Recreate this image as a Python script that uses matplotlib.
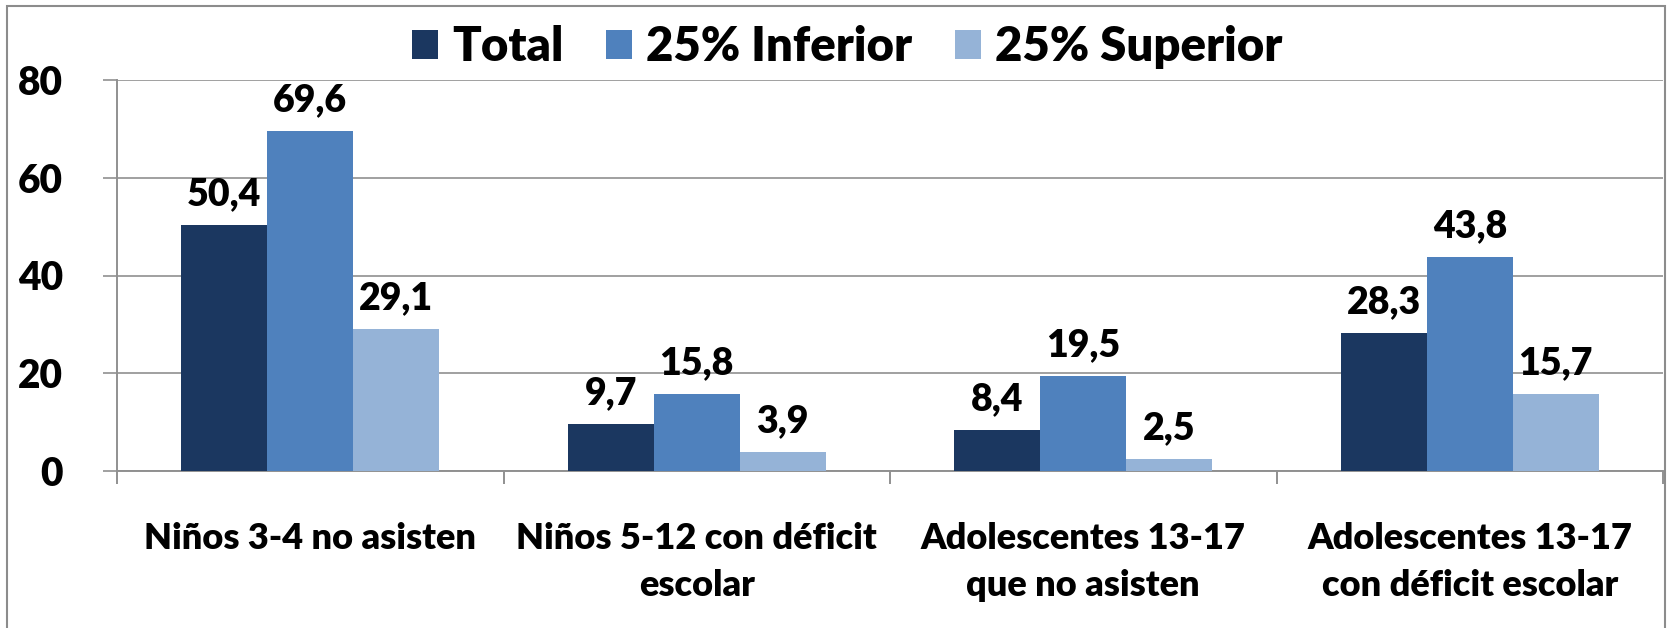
import matplotlib
matplotlib.use("Agg")
import matplotlib.pyplot as plt
from matplotlib.patches import Rectangle, Patch
import numpy as np

plt.rcParams['font.family'] = ['Lato', 'DejaVu Sans']
plt.rcParams['font.weight'] = 'heavy'

categories = ["Niños 3-4 no asisten",
              "Niños 5-12 con déficit\nescolar",
              "Adolescentes 13-17\nque no asisten",
              "Adolescentes 13-17\ncon déficit escolar"]
series_names = ["Total", "25% Inferior", "25% Superior"]
total = [50.4, 9.7, 8.4, 28.3]
inferior = [69.6, 15.8, 19.5, 43.8]
superior = [29.1, 3.9, 2.5, 15.7]
colors = ['#1B3760', '#4F81BD', '#95B3D7']
yticks = [0, 20, 40, 60, 80]

fig = plt.figure(figsize=(16.67, 6.28), dpi=100)
ax = fig.add_axes([117 / 1667, 1 - 471 / 628, 1546 / 1667, 391 / 628])

x = np.arange(len(categories))
w = 1 / 4.5
for i, vals in enumerate([total, inferior, superior]):
    bars = ax.bar(x + (i - 1) * w, vals, width=w, color=colors[i], zorder=3)
    for b, v in zip(bars, vals):
        ax.annotate(f"{v:.1f}".replace('.', ','),
                    (b.get_x() + b.get_width() / 2, b.get_height()),
                    xytext=(0, 10), textcoords='offset points',
                    ha='center', va='bottom', fontsize=27, fontweight='heavy')

ax.set_xlim(-0.5, len(categories) - 0.5)
ax.set_ylim(0, 80)
ax.set_yticks(yticks)
ax.set_yticklabels([str(t) for t in yticks])
ax.yaxis.grid(True, color='#a0a0a0', lw=1.4, zorder=0)

ax.set_xticks(x)
ax.set_xticklabels(categories, linespacing=1.5)
ax.set_xticks(np.arange(len(categories) + 1) - 0.5, minor=True)
ax.tick_params(axis='x', which='major', length=0, pad=37, labelsize=26)
ax.tick_params(axis='x', which='minor', length=9, width=1.4, color='#909090')
ax.tick_params(axis='y', length=10, width=1.4, color='#a0a0a0', pad=29, labelsize=28)

for s in ['top', 'right']:
    ax.spines[s].set_visible(False)
for s in ['left', 'bottom']:
    ax.spines[s].set_color('#909090')
    ax.spines[s].set_linewidth(1.4)

handles = [Patch(facecolor=c, edgecolor='none') for c in colors]
fig.legend(handles, series_names, loc='center', ncol=3, frameon=False,
           bbox_to_anchor=(847 / 1667, 1 - 47 / 628),
           prop={'size': 34, 'weight': 'heavy'},
           handlelength=0.55, handleheight=0.55, handletextpad=0.3,
           columnspacing=0.9)

fig.patches.append(Rectangle((7 / 1667, -0.02), 1658 / 1667, 1.02 - 6 / 628,
                             transform=fig.transFigure, fill=False,
                             edgecolor='#8c8c8c', lw=1.5))

fig.savefig("out.png", dpi=100)
